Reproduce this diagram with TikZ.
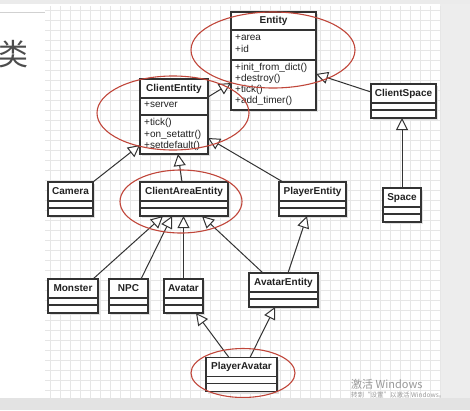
\documentclass[tikz,border=0pt]{standalone}
\usepackage{fontspec}
\setmainfont{Liberation Sans}
\newfontfamily\cjk{Noto Sans CJK SC}
\usetikzlibrary{arrows.meta,calc}
\definecolor{boxline}{HTML}{333333}
\definecolor{txt}{HTML}{222222}
\definecolor{gridc}{HTML}{E6E6E6}
\definecolor{redc}{HTML}{C0463A}
\newcommand\umlcls[6]{%
  \fill[shadowc] ({#2-#4/2+2},{#3-#5/2+2}) rectangle ({#2+#4/2+2},{#3+#5/2+2});
  \node[cls, minimum width=#4pt, minimum height=#5pt] (#1) at (#2,#3) {};
  \draw[clsline] ($(#1.north west)+(0,19)$) -- ($(#1.north east)+(0,19)$);
  \draw[clsline] ($(#1.north west)+(0,26)$) -- ($(#1.north east)+(0,26)$);
  \node[ttl] (#1-t) at ($(#1.north)+(0,9.5)$) {#6};
}
\begin{document}
\begin{tikzpicture}[x=1pt,y=-1pt,
  cls/.style={draw=boxline, line width=1.1pt, fill=white, inner sep=0pt, outer sep=0pt},
  clsline/.style={draw=boxline, line width=1.1pt},
  shadowc/.style={fill=black!12},
  ttl/.style={font=\bfseries\fontsize{10}{11}\selectfont, text=txt, inner sep=0pt, text height=7pt, text depth=2pt},
  mem/.style={font=\fontsize{10}{11}\selectfont, text=txt, inner sep=0pt, anchor=west, text height=7pt, text depth=2pt},
  inh/.style={draw=boxline, line width=1pt, -{Triangle[length=12pt,width=12pt,fill=white]}},
  redell/.style={draw=redc, line width=1.1pt},
  gridline/.style={draw=gridc, line width=0.5pt}]
\useasboundingbox (0,0) rectangle (470,410);
\fill[white] (0,0) rectangle (470,410);
% page surroundings
\fill[black!7] (440,0) rectangle (470,398);
\fill[black!8] (0,0) rectangle (470,4);
\draw[black!18, line width=0.6pt] (0,12) -- (45,12);
\node[font=\cjk\fontsize{30}{30}\selectfont, text=black!70, inner sep=0pt, anchor=east] (lei) at (29,54) {类};
% grid
\foreach \gx in {50,60,...,440} \draw[gridline] (\gx,6) -- (\gx,398);
\foreach \gy in {10,20,...,390} \draw[gridline] (45,\gy) -- (440,\gy);
% Entity
\fill[shadowc] (233,14) rectangle (318,112);
\node[cls, minimum width=85pt, minimum height=98pt] (entity) at (273.5,61) {};
\draw[clsline] ($(entity.north west)+(0,18)$) -- ($(entity.north east)+(0,18)$);
\draw[clsline] ($(entity.north west)+(0,48)$) -- ($(entity.north east)+(0,48)$);
\node[ttl] (entity-t) at (273.5,21) {Entity};
\node[mem] (e1) at (235,38) {+area};
\node[mem] (e2) at (235,49.5) {+id};
\node[mem] (e3) at (235,68) {+init\_from\_dict()};
\node[mem] (e4) at (235,79) {+destroy()};
\node[mem] (e5) at (235,90) {+tick()};
\node[mem] (e6) at (235,101) {+add\_timer()};
% ClientEntity
\fill[shadowc] (142,81) rectangle (210,156);
\node[cls, minimum width=68pt, minimum height=75pt] (clientent) at (174,116.5) {};
\draw[clsline] ($(clientent.north west)+(0,19)$) -- ($(clientent.north east)+(0,19)$);
\draw[clsline] ($(clientent.north west)+(0,36)$) -- ($(clientent.north east)+(0,36)$);
\node[ttl] (clientent-t) at (174,88.5) {ClientEntity};
\node[mem] (c1) at (144,105) {+server};
\node[mem] (c2) at (144,123) {+tick()};
\node[mem] (c3) at (144,134.5) {+on\_setattr()};
\node[mem] (c4) at (144,146) {+setdefault()};
% simple classes
\umlcls{clientspace}{403.5}{101}{65}{34}{ClientSpace}
\umlcls{space}{402}{205}{38}{34}{Space}
\umlcls{camera}{70.5}{199}{45}{34}{Camera}
\umlcls{clientarea}{184}{199}{88}{34}{ClientAreaEntity}
\umlcls{playerent}{312.5}{199}{67}{34}{PlayerEntity}
\umlcls{monster}{73}{296}{50}{34}{Monster}
\umlcls{npc}{128.5}{296}{39}{34}{NPC}
\umlcls{avatar}{183.5}{296}{39}{34}{Avatar}
\umlcls{avatarent}{283.5}{290}{69}{34}{AvatarEntity}
\umlcls{playeravatar}{241.5}{374.5}{71}{34}{PlayerAvatar}
% inheritance connectors
\draw[inh] ([yshift=19.5pt]clientent.east) -- ([yshift=-22pt]entity.west);
\draw[inh] ([yshift=9pt]clientspace.west) -- ([yshift=-13pt]entity.east);
\draw[inh] (space.north) -- (space.north |- clientspace.south);
\draw[inh] (camera.north east) -- ([yshift=-28.5pt]clientent.west);
\draw[inh] ([xshift=-2pt]clientarea.north) -- ([xshift=4pt]clientent.south);
\draw[inh] ([xshift=4pt]playerent.north west) -- ([yshift=-21.5pt]clientent.east);
\draw[inh] ([xshift=-5pt]monster.north east) -- ([xshift=-21pt]clientarea.south);
\draw[inh] ([xshift=12.5pt]npc.north) -- ([xshift=-12pt]clientarea.south);
\draw[inh] (avatar.north) -- (avatar.north |- clientarea.south);
\draw[inh] ([xshift=-20.5pt]avatarent.north) -- ([xshift=18pt]clientarea.south);
\draw[inh] ([xshift=4.5pt]avatarent.north) -- ([xshift=-5.5pt]playerent.south);
\draw[inh] ([xshift=-12.5pt]playeravatar.north) -- ([xshift=12.5pt]avatar.south);
\draw[inh] ([xshift=8.5pt]playeravatar.north) -- ([xshift=-8.5pt]avatarent.south);
% red ellipses
\draw[redell] (273,50) ellipse [x radius=82, y radius=38];
\draw[redell] (173,113) ellipse [x radius=76, y radius=37];
\draw[redell] (181,201.5) ellipse [x radius=61, y radius=31.5];
\draw[redell] (243,373) ellipse [x radius=52, y radius=24.5];
% bottom bar and overlay text
\fill[black!11] (0,398) rectangle (470,410);
\node[font=\cjk\fontsize{11}{11}\selectfont, text=black!40, inner sep=0pt, anchor=west] (win1) at (351,384) {激活 Windows};
\node[font=\cjk\fontsize{6.5}{7}\selectfont, text=black!40, inner sep=0pt, anchor=west] (win2) at (351,395) {转到“设置”以激活 Windows。};
\end{tikzpicture}
\end{document}
